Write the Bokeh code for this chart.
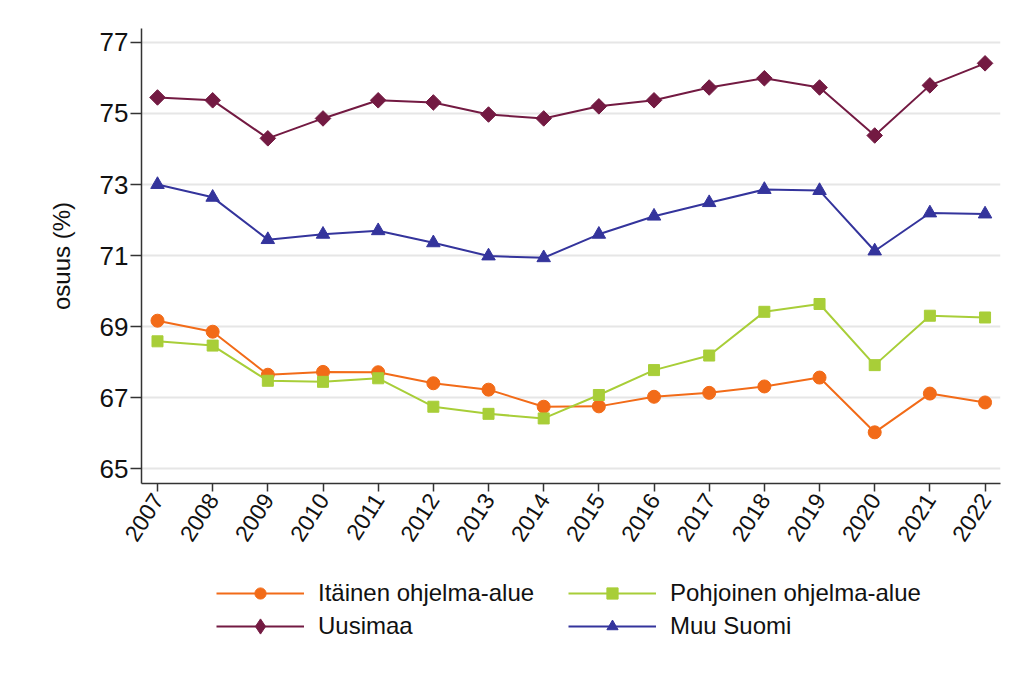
import math
from bokeh.plotting import figure
from bokeh.layouts import column
from bokeh.models import Range1d, FixedTicker, Legend, LegendItem
from bokeh.embed import file_html
from bokeh.resources import INLINE

years = list(range(2007, 2023))
itainen = [69.17, 68.86, 67.65, 67.73, 67.72, 67.41, 67.23, 66.75, 66.76, 67.03, 67.14, 67.32, 67.57, 66.03, 67.12, 66.87]
pohjoinen = [68.59, 68.47, 67.48, 67.45, 67.55, 66.75, 66.55, 66.42, 67.08, 67.78, 68.19, 69.42, 69.64, 67.92, 69.31, 69.26]
uusimaa = [75.45, 75.37, 74.30, 74.86, 75.37, 75.31, 74.97, 74.86, 75.20, 75.37, 75.73, 75.99, 75.73, 74.38, 75.79, 76.41]
muu_suomi = [73.00, 72.64, 71.45, 71.60, 71.70, 71.36, 70.99, 70.94, 71.60, 72.11, 72.49, 72.86, 72.83, 71.13, 72.20, 72.17]
y_ticks = [65, 67, 69, 71, 73, 75, 77]
labels = ["Itäinen ohjelma-alue", "Pohjoinen ohjelma-alue", "Uusimaa", "Muu Suomi"]

FONT = "Liberation Sans"

# (values, colour, plot marker, size, angle, legend marker)
series = [
    (itainen, "#F26B18", "circle", 13, 0.0, "circle"),
    (pohjoinen, "#A8CE38", "square", 11, 0.0, "square"),
    (uusimaa, "#731A42", "square", 11, math.pi / 4, "diamond"),
    (muu_suomi, "#34349C", "triangle", 13.5, 0.0, "triangle"),
]

# ---------------- main chart ----------------
p = figure(width=1002, height=560, output_backend="svg", toolbar_location=None,
           x_range=Range1d(2006.71, 2022.28), y_range=Range1d(64.59, 77.39),
           min_border_left=141, min_border_right=2, min_border_top=28, min_border_bottom=77)
p.outline_line_color = None
p.background_fill_color = "white"
p.border_fill_color = "white"

p.xgrid.grid_line_color = None
p.ygrid.grid_line_color = "#e6e6e6"
p.ygrid.grid_line_width = 2
p.ygrid.ticker = FixedTicker(ticks=y_ticks)

p.yaxis.ticker = FixedTicker(ticks=y_ticks)
p.xaxis.ticker = FixedTicker(ticks=years)
for ax in (p.xaxis[0], p.yaxis[0]):
    ax.axis_line_color = "#333333"
    ax.axis_line_width = 1.5
    ax.major_tick_line_color = "#333333"
    ax.major_tick_line_width = 1.5
    ax.major_tick_in = 0
    ax.minor_tick_line_color = None
    ax.major_label_text_font = FONT
    ax.major_label_text_color = "#111111"
p.yaxis.major_tick_out = 11
p.xaxis.major_tick_out = 8
p.yaxis.major_label_text_font_size = "26px"
p.xaxis.major_label_text_font_size = "23px"
p.xaxis.major_label_orientation = 1.0
p.xaxis.major_label_standoff = 4
p.yaxis.axis_label = "osuus (%)"
p.yaxis.axis_label_text_font = FONT
p.yaxis.axis_label_text_font_size = "24px"
p.yaxis.axis_label_text_font_style = "normal"
p.yaxis.axis_label_text_color = "#111111"
p.yaxis.axis_label_standoff = 22
p.yaxis.major_label_standoff = 2

for vals, color, marker, size, ang, _lm in series:
    p.line(years, vals, line_color=color, line_width=2)
    p.scatter(years, vals, marker=marker, size=size, angle=ang, fill_color=color, line_color=color)

# ---------------- legend strip ----------------
lf = figure(width=1002, height=99, output_backend="svg", toolbar_location=None,
            x_range=Range1d(0, 1), y_range=Range1d(0, 1),
            x_axis_location=None, y_axis_location=None, min_border=0)
lf.outline_line_color = None
lf.grid.grid_line_color = None
lf.background_fill_color = "white"
lf.border_fill_color = "white"

items = []
for (vals, color, marker, size, ang, lmarker), label in zip(series, labels):
    l = lf.line(years, vals, line_color=color, line_width=2)
    s = lf.scatter(years, vals, marker=lmarker, size=size, fill_color=color, line_color=color)
    items.append(LegendItem(label=label, renderers=[l, s]))


def make_legend(its, loc, gh=28):
    lg = Legend(items=its, location=loc)
    lg.label_text_font = FONT
    lg.label_text_font_size = "24px"
    lg.label_text_color = "#111111"
    lg.glyph_width = 88
    lg.glyph_height = gh
    lg.label_height = gh
    lg.label_standoff = 14
    lg.spacing = 5
    lg.border_line_color = None
    lg.background_fill_alpha = 0
    lg.margin = 0
    lg.padding = 0
    return lg


lf.add_layout(make_legend([items[0]], (75, 52)), "center")
lf.add_layout(make_legend([items[2]], (75, 14), gh=38), "center")
lf.add_layout(make_legend([items[1], items[3]], (427, 19)), "center")

layout = column(p, lf, spacing=0)
open("out.html", "w").write(file_html(layout, INLINE))
